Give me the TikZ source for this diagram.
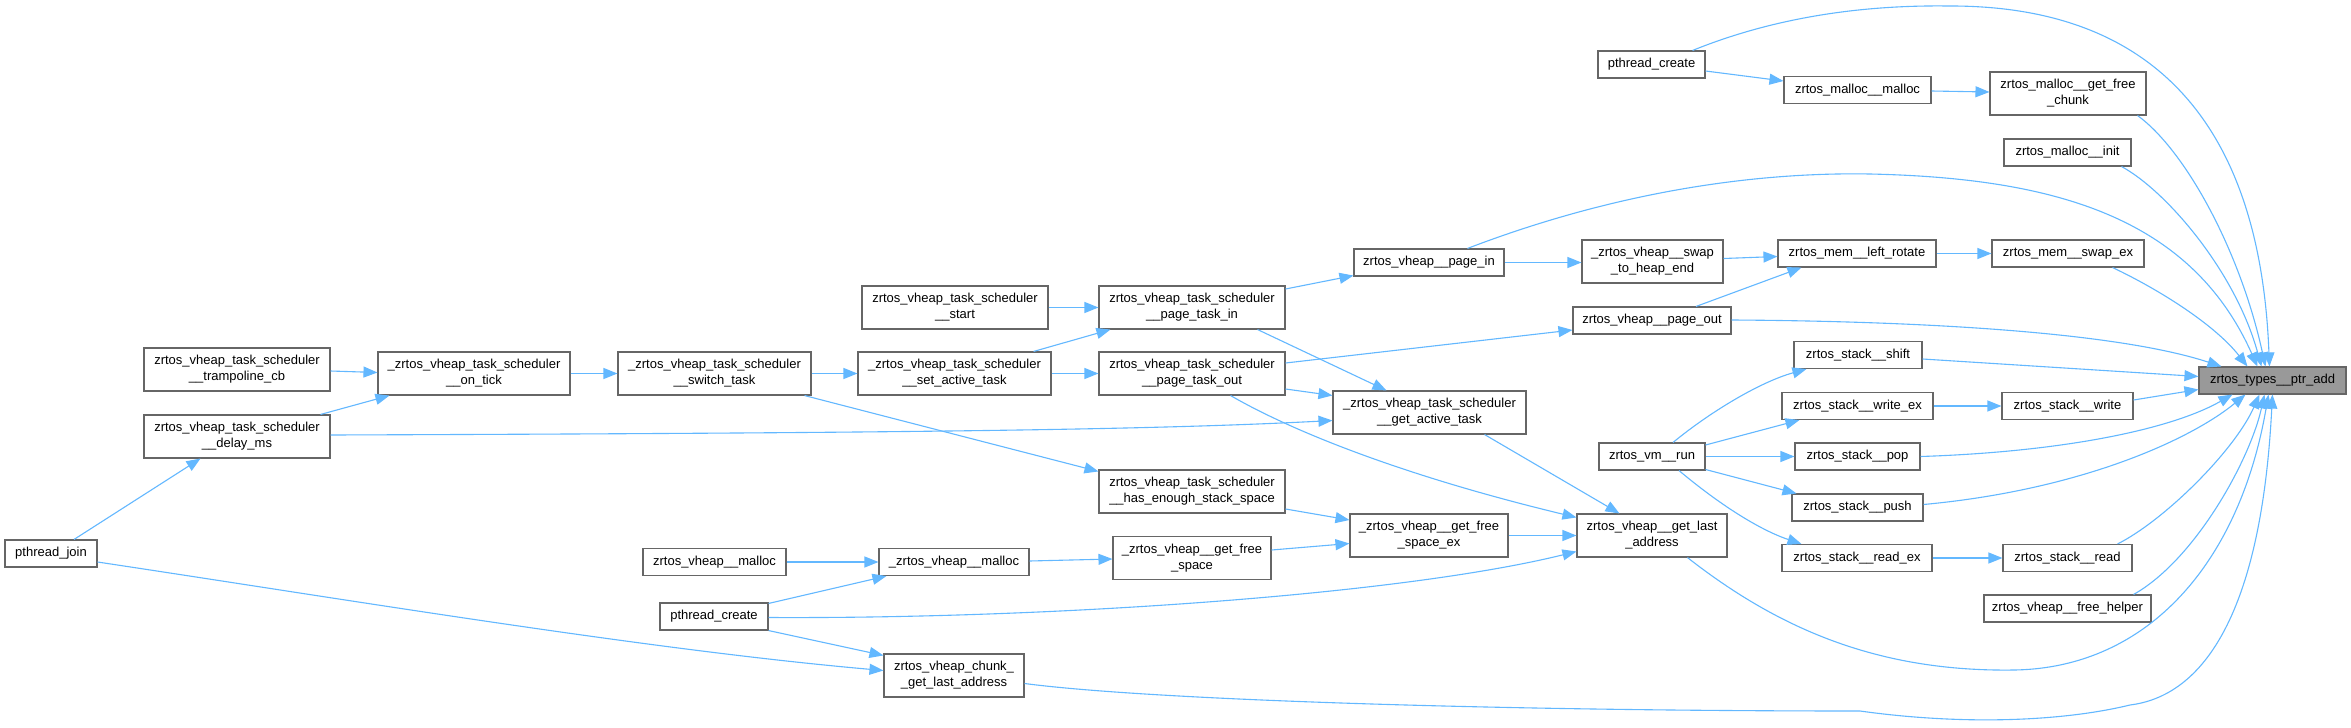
\documentclass[tikz,border=0pt]{standalone}
\usepackage{fontspec}
\setmainfont{Liberation Sans}
\usetikzlibrary{arrows.meta,calc}
\definecolor{edgec}{HTML}{63B8FF}
\definecolor{boxc}{HTML}{666666}
\definecolor{hl}{HTML}{999999}
\tikzset{
  fn/.style={draw=boxc, line width=1.1pt, fill=white, inner sep=0pt, align=center,
             font=\fontsize{13}{16}\selectfont, text=black},
  cur/.style={fn, fill=hl},
  edge/.style={draw=edgec, line width=1.1pt, -{Triangle[length=14pt,width=11pt]}}
}
\begin{document}
\begin{tikzpicture}[x=1pt,y=-1pt]
\fill[white] (0,0) rectangle (2351,728);
\useasboundingbox (0,0) rectangle (2351,728);

% nodes
\node[fn, minimum width=107pt, minimum height=27pt] (pc1) at (1651.5,64.5) {pthread\_create};
\node[fn, minimum width=147pt, minimum height=27pt] (mmalloc) at (1857.5,90) {zrtos\_malloc\_\_malloc};
\node[fn, minimum width=156pt, minimum height=43pt] (gfc) at (2068,93.5) {zrtos\_malloc\_\_get\_free\\\_chunk};
\node[fn, minimum width=127pt, minimum height=27pt] (minit) at (2067.5,152.5) {zrtos\_malloc\_\_init};
\node[fn, minimum width=150pt, minimum height=27pt] (pagein) at (1429,262.5) {zrtos\_vheap\_\_page\_in};
\node[fn, minimum width=141pt, minimum height=43pt] (swap) at (1652.5,261.5) {\_zrtos\_vheap\_\_swap\\\_to\_heap\_end};
\node[fn, minimum width=158pt, minimum height=27pt] (lrot) at (1857,253.5) {zrtos\_mem\_\_left\_rotate};
\node[fn, minimum width=152pt, minimum height=27pt] (swapex) at (2068,253.5) {zrtos\_mem\_\_swap\_ex};
\node[fn, minimum width=158pt, minimum height=27pt] (pageout) at (1652,320.5) {zrtos\_vheap\_\_page\_out};
\node[fn, minimum width=128pt, minimum height=27pt] (shift) at (1858,355) {zrtos\_stack\_\_shift};
\node[cur, minimum width=147pt, minimum height=27pt] (ptradd) at (2272.5,380.5) {zrtos\_types\_\_ptr\_add};
\node[fn, minimum width=151pt, minimum height=27pt] (writeex) at (1857.5,406) {zrtos\_stack\_\_write\_ex};
\node[fn, minimum width=131pt, minimum height=27pt] (write) at (2067.5,406) {zrtos\_stack\_\_write};
\node[fn, minimum width=106pt, minimum height=27pt] (vmrun) at (1652,456.5) {zrtos\_vm\_\_run};
\node[fn, minimum width=125pt, minimum height=27pt] (pop) at (1857.5,456.5) {zrtos\_stack\_\_pop};
\node[fn, minimum width=131pt, minimum height=27pt] (push) at (1857.5,507.5) {zrtos\_stack\_\_push};
\node[fn, minimum width=150pt, minimum height=43pt] (gla) at (1652,535.5) {zrtos\_vheap\_\_get\_last\\\_address};
\node[fn, minimum width=150pt, minimum height=27pt] (readex) at (1857,558) {zrtos\_stack\_\_read\_ex};
\node[fn, minimum width=129pt, minimum height=27pt] (read) at (2067.5,558) {zrtos\_stack\_\_read};
\node[fn, minimum width=167pt, minimum height=27pt] (freeh) at (2067.5,608.5) {zrtos\_vheap\_\_free\_helper};
\node[fn, minimum width=186pt, minimum height=43pt] (pti) at (1192,307.5) {zrtos\_vheap\_task\_scheduler\\\_\_page\_task\_in};
\node[fn, minimum width=186pt, minimum height=43pt] (pto) at (1192,373.5) {zrtos\_vheap\_task\_scheduler\\\_\_page\_task\_out};
\node[fn, minimum width=193pt, minimum height=43pt] (gat) at (1429.5,412.5) {\_zrtos\_vheap\_task\_scheduler\\\_\_get\_active\_task};
\node[fn, minimum width=186pt, minimum height=43pt] (hess) at (1192,491.5) {zrtos\_vheap\_task\_scheduler\\\_\_has\_enough\_stack\_space};
\node[fn, minimum width=158pt, minimum height=43pt] (gfse) at (1429,535.5) {\_zrtos\_vheap\_\_get\_free\\\_space\_ex};
\node[fn, minimum width=158pt, minimum height=43pt] (gfs) at (1192,558) {\_zrtos\_vheap\_\_get\_free\\\_space};
\node[fn, minimum width=186pt, minimum height=43pt] (start) at (955,307.5) {zrtos\_vheap\_task\_scheduler\\\_\_start};
\node[fn, minimum width=193pt, minimum height=43pt] (switch) at (714.5,373.5) {\_zrtos\_vheap\_task\_scheduler\\\_\_switch\_task};
\node[fn, minimum width=193pt, minimum height=43pt] (sat) at (954.5,373.5) {\_zrtos\_vheap\_task\_scheduler\\\_\_set\_active\_task};
\node[fn, minimum width=186pt, minimum height=43pt] (tramp) at (237,369.5) {zrtos\_vheap\_task\_scheduler\\\_\_trampoline\_cb};
\node[fn, minimum width=192pt, minimum height=43pt] (ontick) at (474,373.5) {\_zrtos\_vheap\_task\_scheduler\\\_\_on\_tick};
\node[fn, minimum width=186pt, minimum height=43pt] (delay) at (237,436.5) {zrtos\_vheap\_task\_scheduler\\\_\_delay\_ms};
\node[fn, minimum width=92pt, minimum height=27pt] (join) at (51,553.5) {pthread\_join};
\node[fn, minimum width=143pt, minimum height=27pt] (vmalloc) at (714.5,562) {zrtos\_vheap\_\_malloc};
\node[fn, minimum width=150pt, minimum height=27pt] (vmal2) at (954,562) {\_zrtos\_vheap\_\_malloc};
\node[fn, minimum width=108pt, minimum height=27pt] (pc2) at (714,616.5) {pthread\_create};
\node[fn, minimum width=140pt, minimum height=43pt] (chunk) at (954,675.5) {zrtos\_vheap\_chunk\_\\\_get\_last\_address};

% edges into ptr_add
\draw[edge] ($(pc1.north east)+(-13,0)$) .. controls (1780,15) and (1870,5) .. (1948,6)
  .. controls (2150,5) and (2260,120) .. ($(ptradd.north west)+(71,0)$);
\draw[edge] ($(gfc.south east)+(-9,0)$) .. controls (2185,150) and (2240,250) .. ($(ptradd.north west)+(67,0)$);
\draw[edge] ($(minit.south east)+(-10,0)$) .. controls (2165,190) and (2235,270) .. ($(ptradd.north west)+(63,0)$);
\draw[edge] ($(pagein.north west)+(114,0)$) .. controls (1620,190) and (1760,172) .. (1870,174)
  .. controls (2050,178) and (2190,215) .. ($(ptradd.north west)+(59,0)$);
\draw[edge] ($(swapex.south east)+(-32,0)$) .. controls (2160,290) and (2215,325) .. ($(ptradd.north west)+(49,0)$);
\draw[edge] ($(pageout.east)+(0,-0.5)$) .. controls (1900,321) and (2110,330) .. ($(ptradd.north west)+(23,0)$);
\draw[edge] ($(shift.east)+(0,4)$) -- ($(ptradd.west)+(0,-4)$);
\draw[edge] ($(write.east)+(0,-6)$) -- ($(ptradd.west)+(0,9)$);
\draw[edge] (pop.east) .. controls (2060,452) and (2170,430) .. ($(ptradd.south west)+(34,0)$);
\draw[edge] ($(push.east)+(0,-3)$) .. controls (2080,490) and (2190,440) .. ($(ptradd.south west)+(47,0)$);
\draw[edge] ($(read.north east)+(-15,0)$) .. controls (2165,520) and (2235,450) .. ($(ptradd.south west)+(61,0)$);
\draw[edge] ($(freeh.north east)+(-18,0)$) .. controls (2195,560) and (2250,460) .. ($(ptradd.south west)+(66,0)$);
\draw[edge] ($(gla.south west)+(111,0)$) .. controls (1780,630) and (1880,672) .. (2014,670)
  .. controls (2150,668) and (2240,560) .. ($(ptradd.south west)+(70,0)$);
\draw[edge] ($(chunk.east)+(0,8)$) .. controls (1150,700) and (1500,711) .. (1860,711)
  .. controls (1960,725) and (2060,722) .. (2130,705)
  .. controls (2210,695) and (2262,600) .. ($(ptradd.south west)+(74,0)$);

% upper right chain
\draw[edge] ($(pc1.east)+(0,6.5)$) -- ($(mmalloc.west)+(0,-9)$);
\draw[edge] ($(mmalloc.east)+(0,1)$) -- ($(gfc.west)+(0,-1.5)$);
\draw[edge] (pagein.east) -- ($(swap.west)+(0,1)$);
\draw[edge] ($(swap.east)+(0,-3)$) -- ($(lrot.west)+(0,3)$);
\draw[edge] ($(pageout.north)+(44,0)$) -- ($(lrot.south west)+(24,0)$);
\draw[edge] (lrot.east) -- (swapex.west);
\draw[edge] (writeex.east) -- (write.west);
\draw[edge] (readex.east) -- (read.west);

% vm run
\draw[edge] ($(vmrun.north)+(21,0)$) .. controls (1710,412) and (1760,382) .. ($(shift.south west)+(13,0)$);
\draw[edge] ($(vmrun.east)+(0,-11.5)$) -- ($(writeex.south west)+(18,0)$);
\draw[edge] (vmrun.east) -- (pop.west);
\draw[edge] ($(vmrun.east)+(0,13)$) -- ($(push.north west)+(5,0)$);
\draw[edge] ($(vmrun.south)+(27,0)$) .. controls (1720,505) and (1760,530) .. ($(readex.north west)+(20,0)$);

% scheduler
\draw[edge] ($(pti.east)+(0,-18.5)$) -- ($(pagein.south west)+(0,-1)$);
\draw[edge] ($(pti.south east)+(-28,0)$) -- ($(gat.north west)+(54,0)$);
\draw[edge] ($(pto.east)+(0,-10.5)$) -- ($(pageout.west)+(0,9.5)$);
\draw[edge] ($(pto.east)+(0,15.5)$) -- ($(gat.west)+(0,-17)$);
\draw[edge] ($(pto.south east)+(-55,0)$) .. controls (1290,430) and (1400,475) .. ($(gla.north west)+(0,4)$);
\draw[edge] ($(gat.south east)+(-42,0)$) -- ($(gla.north west)+(43,0)$);
\draw[edge] (start.east) -- (pti.west);
\draw[edge] ($(sat.north east)+(-18,0)$) -- ($(pti.south west)+(12,0)$);
\draw[edge] (sat.east) -- (pto.west);
\draw[edge] (switch.east) -- (sat.west);
\draw[edge] ($(switch.south east)+(-7,0)$) -- ($(hess.north west)+(0,2)$);
\draw[edge] (ontick.east) -- (switch.west);
\draw[edge] ($(tramp.east)+(0,1.5)$) -- ($(ontick.west)+(0,-1)$);
\draw[edge] ($(delay.north east)+(-10,0)$) -- ($(ontick.south west)+(12,0)$);
\draw[edge] ($(delay.east)+(0,-1.5)$) .. controls (900,433) and (1150,430) .. ($(gat.west)+(0,8)$);
\draw[edge] ($(join.north)+(23,0)$) -- ($(delay.south west)+(57,0)$);
\draw[edge] ($(join.east)+(0,8.5)$) .. controls (350,600) and (650,650) .. ($(chunk.west)+(0,-5)$);

% heap
\draw[edge] (vmalloc.east) -- (vmal2.west);
\draw[edge] ($(vmal2.east)+(0,-1)$) -- ($(gfs.west)+(0,1)$);
\draw[edge] ($(pc2.north east)+(0,1)$) -- ($(vmal2.south west)+(8,0)$);
\draw[edge] ($(pc2.east)+(0,1)$) .. controls (1050,619) and (1400,595) .. ($(gla.west)+(0,16)$);
\draw[edge] (pc2.south east) -- ($(chunk.north west)+(0,2)$);
\draw[edge] ($(hess.east)+(0,17.5)$) -- ($(gfse.west)+(0,-15.5)$);
\draw[edge] ($(gfs.east)+(0,-8)$) -- ($(gfse.west)+(0,8)$);
\draw[edge] (gfse.east) -- (gla.west);
\end{tikzpicture}
\end{document}
